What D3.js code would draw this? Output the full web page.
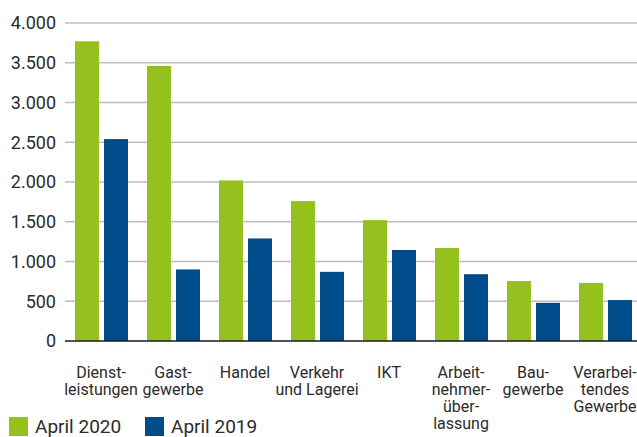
<!DOCTYPE html>
<html>
<head>
<meta charset="utf-8">
<script src="https://cdn.jsdelivr.net/npm/d3@7"></script>
<style>
  body { margin: 0; background: #fff; }
  svg text { font-family: Roboto, "Noto Sans", sans-serif; fill: #2b2b2b; }
</style>
</head>
<body>
<script>
// Branchen (line breaks as in the original labels)
var categories = [
  ["Dienst-", "leistungen"],
  ["Gast-", "gewerbe"],
  ["Handel"],
  ["Verkehr", "und Lagerei"],
  ["IKT"],
  ["Arbeit-", "nehmer-", "über-", "lassung"],
  ["Bau-", "gewerbe"],
  ["Verarbei-", "tendes", "Gewerbe"]
];
var series = ["April 2020", "April 2019"];
var april2020 = [3770, 3460, 2020, 1760, 1520, 1170, 755, 730];
var april2019 = [2540, 900, 1290, 870, 1145, 840, 480, 515];
var yTicks = [0, 500, 1000, 1500, 2000, 2500, 3000, 3500, 4000];
var colors = ["#95c11f", "#004b8a"];

var w = 637, h = 437;
var svg = d3.select("body").append("svg")
    .attr("width", w)
    .attr("height", h);

var keys = categories.map(function(d) { return d.join(" "); });
var x0 = d3.scaleBand().domain(keys).range([65, 641]);
var x1 = d3.scaleBand().domain(series).range([10, 63]).paddingInner(5 / 29);
var y = d3.scaleLinear().domain([0, 4000]).range([341, 23]);
var fmt = function(v) { return d3.format(",")(v).replace(/,/g, "."); };

// grid
svg.append("g")
  .selectAll("line")
  .data(yTicks.slice(1))
  .enter().append("line")
    .attr("x1", 65).attr("x2", w)
    .attr("y1", function(d) { return y(d); })
    .attr("y2", function(d) { return y(d); })
    .attr("stroke", "#bdbdbd")
    .attr("stroke-width", 1.5);

// y labels
svg.append("g")
  .selectAll("text")
  .data(yTicks)
  .enter().append("text")
    .attr("x", 56)
    .attr("y", function(d) { return y(d); })
    .attr("dy", "0.36em")
    .attr("text-anchor", "end")
    .style("font-size", "18px")
    .text(fmt);

// bars
var groups = svg.append("g")
  .selectAll("g")
  .data(keys)
  .enter().append("g")
    .attr("transform", function(d) { return "translate(" + x0(d) + ",0)"; });

groups.selectAll("rect")
  .data(function(d, i) { return [april2020[i], april2019[i]]; })
  .enter().append("rect")
    .attr("x", function(d, j) { return x1(series[j]); })
    .attr("width", x1.bandwidth())
    .attr("y", function(d) { return y(d); })
    .attr("height", function(d) { return y(0) - y(d); })
    .attr("fill", function(d, j) { return colors[j]; });

// baseline
svg.append("line")
    .attr("x1", 65).attr("x2", w)
    .attr("y1", y(0)).attr("y2", y(0))
    .attr("stroke", "#1a1a1a")
    .attr("stroke-width", 1.5);

// x labels
var xl = svg.append("g")
  .selectAll("text")
  .data(categories)
  .enter().append("text")
    .attr("text-anchor", "middle")
    .style("font-size", "16px")
    .attr("transform", function(d, i) {
      return "translate(" + (x0(keys[i]) + x0.bandwidth() / 2) + ",378)";
    });
xl.selectAll("tspan")
  .data(function(d) { return d; })
  .enter().append("tspan")
    .attr("x", 0)
    .attr("y", function(d, i) { return i * 17; })
    .text(function(d) { return d; });

// legend
var legendX = [9, 145];
var leg = svg.append("g")
  .selectAll("g")
  .data(series)
  .enter().append("g")
    .attr("transform", function(d, i) { return "translate(" + legendX[i] + ",417)"; });
leg.append("rect")
    .attr("width", 19).attr("height", 19)
    .attr("fill", function(d, i) { return colors[i]; });
leg.append("text")
    .attr("x", 26)
    .attr("y", 16)
    .style("font-size", "19px")
    .text(function(d) { return d; });
</script>
</body>
</html>
